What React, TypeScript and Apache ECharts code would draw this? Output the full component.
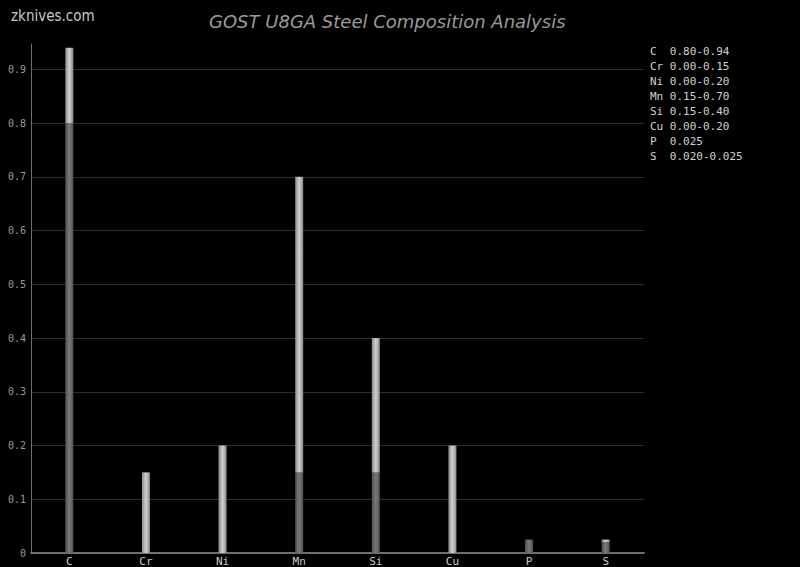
import React, { useEffect, useRef } from "react";
import * as echarts from "echarts";

const elements = ["C", "Cr", "Ni", "Mn", "Si", "Cu", "P", "S"];
const minValues = [0.8, 0, 0, 0.15, 0.15, 0, 0.025, 0.02];
const maxValues = [0.94, 0.15, 0.2, 0.7, 0.4, 0.2, 0.025, 0.025];
const legendLines = [
  "C  0.80-0.94",
  "Cr 0.00-0.15",
  "Ni 0.00-0.20",
  "Mn 0.15-0.70",
  "Si 0.15-0.40",
  "Cu 0.00-0.20",
  "P  0.025",
  "S  0.020-0.025",
];

const mono = "'DejaVu Sans Mono', 'Liberation Mono', monospace";

export default function App() {
  const ref = useRef<HTMLDivElement>(null);
  useEffect(() => {
    document.body.style.margin = "0";
    document.body.style.background = "#000";
    const chart = echarts.init(ref.current!, null, { renderer: "svg" });
    const rangeValues = maxValues.map((v, i) => +(v - minValues[i]).toFixed(4));
    const darkGrad = new echarts.graphic.LinearGradient(0, 0, 1, 0, [
      { offset: 0, color: "#505050" },
      { offset: 0.5, color: "#7a7a7a" },
      { offset: 1, color: "#505050" },
    ]);
    const lightGrad = new echarts.graphic.LinearGradient(0, 0, 1, 0, [
      { offset: 0, color: "#8a8a8a" },
      { offset: 0.5, color: "#d0d0d0" },
      { offset: 1, color: "#8a8a8a" },
    ]);
    chart.setOption({
      animation: false,
      backgroundColor: "#000",
      grid: { left: 31, right: 156, top: 44, bottom: 12, containLabel: false },
      title: {
        text: "GOST U8GA Steel Composition Analysis",
        left: 204,
        top: 7,
        textStyle: {
          color: "#9a9a9a",
          fontStyle: "italic",
          fontWeight: "normal",
          fontSize: 18,
          fontFamily: "'DejaVu Sans', sans-serif",
        },
      },
      graphic: [
        {
          type: "text",
          left: 11,
          top: 8,
          style: {
            text: "zknives.com",
            fill: "#c8c8c8",
            fontSize: 15,
            fontWeight: "normal",
            fontFamily: "'DejaVu Sans Condensed', 'DejaVu Sans', sans-serif",
          },
        },
        ...legendLines.map((t, i) => ({
          type: "text",
          left: 650,
          top: 46 + i * 15,
          style: {
            text: t,
            fill: "#d0d0d0",
            fontSize: 11,
            fontFamily: mono,
          },
        })),
      ],
      xAxis: {
        type: "category",
        data: elements,
        axisLine: { lineStyle: { color: "#707070", width: 2 } },
        axisTick: { show: false },
        axisLabel: {
          color: "#cccccc",
          fontFamily: mono,
          fontSize: 11,
          margin: 3,
        },
      },
      yAxis: {
        type: "value",
        min: 0,
        max: 0.947,
        interval: 0.1,
        axisLine: { show: true, lineStyle: { color: "#707070", width: 1 } },
        axisTick: { show: false },
        axisLabel: {
          color: "#9a9a9a",
          fontFamily: mono,
          fontSize: 10,
          margin: 5,
          showMaxLabel: false,
          formatter: (v: number) => (v === 0 ? "0" : String(+v.toFixed(1))),
        },
        splitLine: {
          showMaxLine: false,
          lineStyle: { color: "#2e2e2e", width: 1 },
        },
      },
      series: [
        {
          type: "bar",
          stack: "s",
          data: minValues,
          barWidth: 8,
          itemStyle: { color: darkGrad },
        },
        {
          type: "bar",
          stack: "s",
          data: rangeValues,
          barWidth: 8,
          itemStyle: { color: lightGrad },
        },
      ],
    });
    return () => chart.dispose();
  }, []);
  return <div ref={ref} style={{ width: 800, height: 567 }} />;
}
